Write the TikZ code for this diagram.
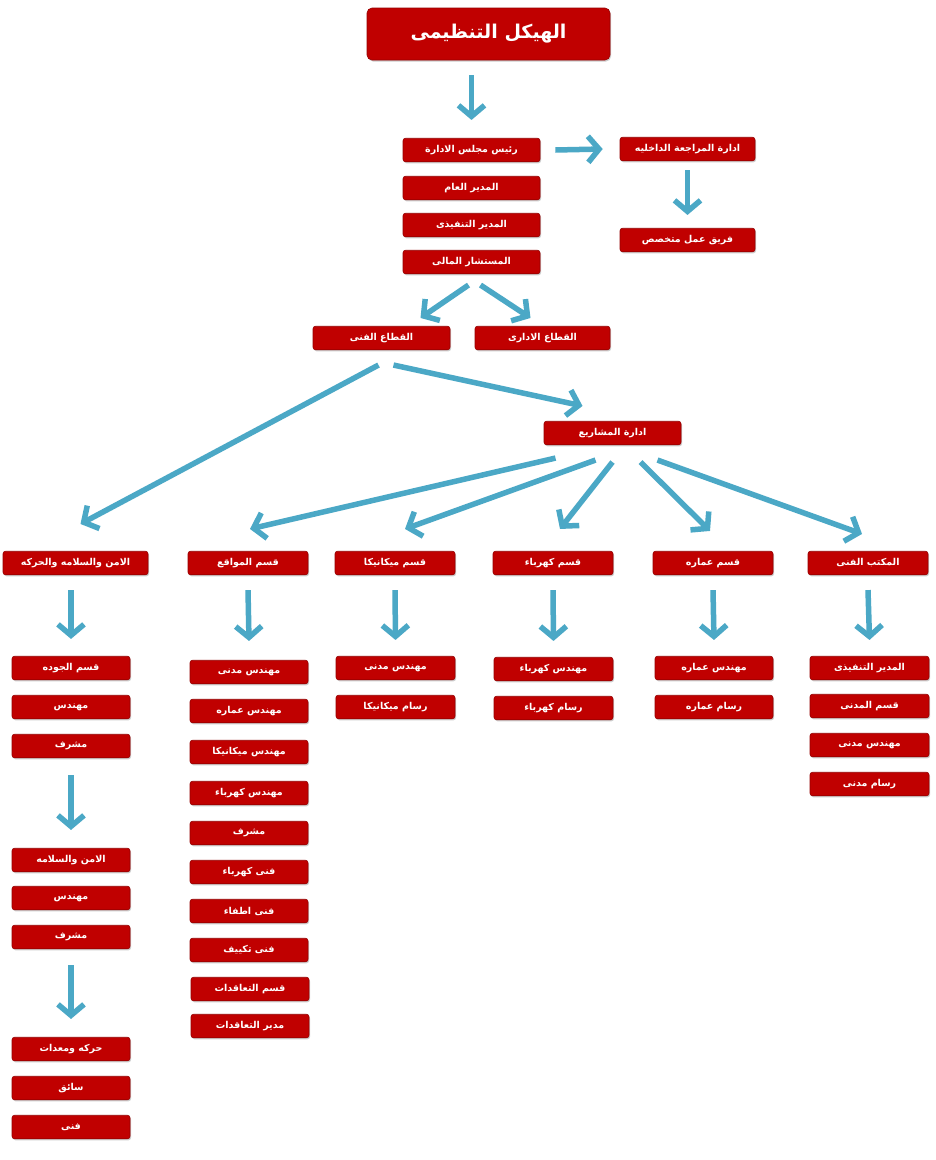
\documentclass[tikz,border=0pt]{standalone}
\usepackage{fontspec}
\newfontfamily\arabicfont[Script=Arabic]{DejaVu Sans Bold}
\TeXXeTstate=1
\usetikzlibrary{arrows.meta,shadows}
\definecolor{boxred}{RGB}{192,0,0}
\definecolor{boxedge}{RGB}{150,0,0}
\definecolor{arrowblue}{RGB}{75,168,198}
\newcommand\ar[1]{\arabicfont\beginR #1\endR}
\tikzset{
  box/.style={draw=boxedge, line width=0.6pt, fill=boxred, rounded corners=2.5pt,
    text=white, inner sep=0pt, minimum height=23.5pt, minimum width=118pt,
    font=\fontsize{9.5}{11}\selectfont,
    drop shadow={shadow xshift=1pt, shadow yshift=-1.5pt, opacity=0.2, fill=black}},
  arr/.style={draw=arrowblue, line width=5.5pt, -{Straight Barb[length=11pt,width=26pt]}},
}
\begin{document}
\begin{tikzpicture}[x=1pt,y=-1pt]
\useasboundingbox[fill=white] (0,0) rectangle (936,1160);

% top
\node[box, minimum width=243pt, minimum height=52pt, rounded corners=5pt, font=\fontsize{19}{22}\selectfont] (title) at (488.5,34) {\ar{الهيكل التنظيمى}};
\node[box, minimum width=137pt] (chair) at (471.5,150) {\ar{رئيس مجلس الادارة}};
\node[box, minimum width=137pt] (gm) at (471.5,188) {\ar{المدير العام}};
\node[box, minimum width=137pt] (ceo) at (471.5,225) {\ar{المدير التنفيذى}};
\node[box, minimum width=137pt] (fin) at (471.5,262) {\ar{المستشار المالى}};
\node[box, minimum width=135pt] (audit) at (687.5,149) {\ar{ادارة المراجعة الداخليه}};
\node[box, minimum width=135pt] (team) at (687.5,240) {\ar{فريق عمل متخصص}};
\node[box, minimum width=137pt] (tech) at (381.5,338) {\ar{القطاع الفنى}};
\node[box, minimum width=135pt] (adm) at (542.5,338) {\ar{القطاع الادارى}};
\node[box, minimum width=137pt] (pm) at (612.5,433) {\ar{ادارة المشاريع}};

% row of departments
\node[box, minimum width=145pt] (safe) at (75.5,563) {\ar{الامن والسلامه والحركه}};
\node[box, minimum width=120pt] (sites) at (248,563) {\ar{قسم المواقع}};
\node[box, minimum width=120pt] (mech) at (395,563) {\ar{قسم ميكانيكا}};
\node[box, minimum width=120pt] (elec) at (553,563) {\ar{قسم كهرباء}};
\node[box, minimum width=120pt] (arch) at (713,563) {\ar{قسم عماره}};
\node[box, minimum width=120pt] (office) at (868,563) {\ar{المكتب الفنى}};

% column 1
\node[box] (a1) at (71,668) {\ar{قسم الجوده}};
\node[box] (a2) at (71,707) {\ar{مهندس}};
\node[box] (a3) at (71,746) {\ar{مشرف}};
\node[box] (a4) at (71,860) {\ar{الامن والسلامه}};
\node[box] (a5) at (71,898) {\ar{مهندس}};
\node[box] (a6) at (71,937) {\ar{مشرف}};
\node[box] (a7) at (71,1049) {\ar{حركه ومعدات}};
\node[box] (a8) at (71,1088) {\ar{سائق}};
\node[box] (a9) at (71,1127) {\ar{فنى}};

% column 2
\node[box] (b1) at (249,672) {\ar{مهندس مدنى}};
\node[box] (b2) at (249,711) {\ar{مهندس عماره}};
\node[box] (b3) at (249,752) {\ar{مهندس ميكانيكا}};
\node[box] (b4) at (249,793) {\ar{مهندس كهرباء}};
\node[box] (b5) at (249,833) {\ar{مشرف}};
\node[box] (b6) at (249,872) {\ar{فنى كهرباء}};
\node[box] (b7) at (249,911) {\ar{فنى اطفاء}};
\node[box] (b8) at (249,950) {\ar{فنى تكييف}};
\node[box] (b9) at (250,989) {\ar{قسم التعاقدات}};
\node[box] (b10) at (250,1026) {\ar{مدير التعاقدات}};

% column 3
\node[box, minimum width=119pt] (c1) at (395.5,668) {\ar{مهندس مدنى}};
\node[box, minimum width=119pt] (c2) at (395.5,707) {\ar{رسام ميكانيكا}};
% column 4
\node[box, minimum width=119pt] (d1) at (553.5,669) {\ar{مهندس كهرباء}};
\node[box, minimum width=119pt] (d2) at (553.5,708) {\ar{رسام كهرباء}};
% column 5
\node[box] (e1) at (714,668) {\ar{مهندس عماره}};
\node[box] (e2) at (714,707) {\ar{رسام عماره}};
% column 6
\node[box, minimum width=119pt] (f1) at (869.5,668) {\ar{المدير التنفيذى}};
\node[box, minimum width=119pt] (f2) at (869.5,706) {\ar{قسم المدنى}};
\node[box, minimum width=119pt] (f3) at (869.5,745) {\ar{مهندس مدنى}};
\node[box, minimum width=119pt] (f4) at (869.5,784) {\ar{رسام مدنى}};

% arrows
\draw[arr] ([shift={(0,15)}]title.south -| chair.north) -- ([shift={(0,-18)}]chair.north);
\draw[arr] ([shift={(15,0)}]chair.east) -- ([shift={(-17,0)}]audit.west);
\draw[arr] ([shift={(0,9)}]audit.south) -- ([shift={(0,-13)}]team.north);
\draw[arr] ([shift={(-3,11)}]fin.south) -- ([shift={(39,-8)}]tech.north);
\draw[arr] ([shift={(9,11)}]fin.south) -- ([shift={(-12,-8)}]adm.north);
\draw[arr] ([shift={(-3,15)}]tech.south) -- ([shift={(5,-27)}]safe.north);
\draw[arr] ([shift={(12,15)}]tech.south) -- ([shift={(-30,-15)}]pm.north);
\draw[arr] ([shift={(-57,13)}]pm.south) -- ([shift={(2,-22)}]sites.north);
\draw[arr] ([shift={(-17,15)}]pm.south) -- ([shift={(10,-22)}]mech.north);
\draw[arr] ([shift={(0,17)}]pm.south) -- ([shift={(7,-22)}]elec.north);
\draw[arr] ([shift={(28,17)}]pm.south) -- ([shift={(-3,-20)}]arch.north);
\draw[arr] ([shift={(45,15)}]pm.south) -- ([shift={(-6,-17)}]office.north);

\draw[arr] ([shift={(0,15)}]a1.north |- safe.south) -- ([shift={(0,-17)}]a1.north);
\draw[arr] ([shift={(0,17)}]a3.south) -- ([shift={(0,-18)}]a4.north);
\draw[arr] ([shift={(0,16)}]a6.south) -- ([shift={(0,-18)}]a7.north);
\draw[arr] ([shift={(0,15)}]sites.south) -- ([shift={(0,-19)}]b1.north);
\draw[arr] ([shift={(0,15)}]mech.south) -- ([shift={(0,-16)}]c1.north);
\draw[arr] ([shift={(0,15)}]elec.south) -- ([shift={(0,-16)}]d1.north);
\draw[arr] ([shift={(0,15)}]arch.south) -- ([shift={(0,-16)}]e1.north);
\draw[arr] ([shift={(0,15)}]office.south) -- ([shift={(0,-16)}]f1.north);
\end{tikzpicture}
\end{document}
